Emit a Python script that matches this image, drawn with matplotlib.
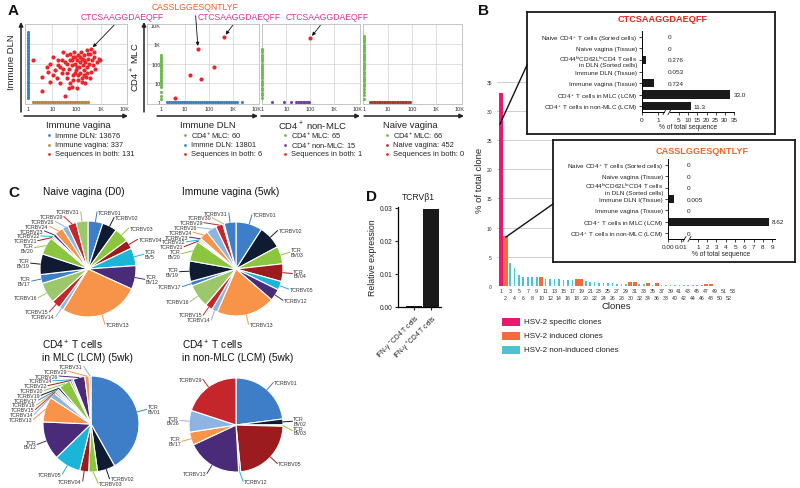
import numpy as np
import matplotlib
matplotlib.use("Agg")
import matplotlib.pyplot as plt
import matplotlib.ticker as mticker
from matplotlib.patches import Rectangle

plt.rcParams['font.family'] = ['Liberation Sans', 'DejaVu Sans']
plt.rcParams['mathtext.fontset'] = 'custom'
plt.rcParams['mathtext.rm'] = 'Liberation Sans'
plt.rcParams['mathtext.it'] = 'Liberation Sans:italic'
plt.rcParams['mathtext.bf'] = 'Liberation Sans:bold'

W, H = 800, 489

#####################################################################
#   DATA
#####################################################################

# --- A, plot 1: immune vagina (x) vs immune DLN (y), shared clones in log10
a1_shared_vag_log = [0.22, 0.56, 0.56, 0.91, 1.05, 1.12, 1.25, 1.32, 1.39, 1.46, 1.53, 1.60, 1.60, 1.67,
                     1.74, 1.74, 1.80, 1.85, 1.87, 1.90, 1.94, 1.98, 2.01, 2.04, 2.08, 2.12, 2.15, 2.15,
                     2.18, 2.22, 2.26, 2.29, 2.31, 2.36, 2.40, 2.42, 2.45, 2.49, 2.53, 2.56, 2.59, 2.63,
                     2.67, 2.73, 2.77, 2.84, 2.91, 2.98, 1.53, 0.91, 1.18, 1.32, 1.67, 1.80, 2.01, 2.22,
                     2.36, 1.87, 2.08, 1.46, 1.25, 1.05, 0.77, 0.84, 1.60, 1.74, 1.94, 2.29, 2.49, 2.70,
                     2.15, 2.01, 1.80, 1.60, 1.39, 2.29, 2.42, 2.56, 2.22, 1.94, 2.59]
a1_shared_dln_log = [2.17, 1.32, 0.58, 2.00, 2.34, 1.66, 2.17, 1.83, 1.49, 2.60, 2.09, 2.43, 1.23, 1.74,
                     2.17, 0.97, 1.91, 1.40, 2.34, 2.60, 2.00, 1.66, 2.17, 1.15, 2.43, 1.83, 2.09, 1.49,
                     2.60, 2.26, 1.91, 1.66, 2.43, 2.09, 1.32, 2.68, 1.83, 2.26, 2.00, 2.51, 1.57, 2.17,
                     1.91, 2.34, 1.74, 2.09, 2.26, 2.17, 0.29, 1.06, 1.23, 0.97, 0.72, 0.80, 0.72, 1.06,
                     0.97, 1.15, 1.40, 1.74, 1.91, 1.40, 1.83, 1.57, 2.00, 2.51, 2.34, 2.17, 2.51, 2.60,
                     2.34, 1.83, 2.17, 1.49, 2.17, 1.40, 1.49, 1.23, 1.23, 1.49, 2.74]
a1_dln_only = [1.6, 1.9, 2.3, 2.8, 3.3, 4, 4.8, 5.7, 6.8, 8, 9.5, 11, 13, 16, 19, 23, 27, 32, 38, 45, 54,
               64, 76, 90, 107, 127, 150, 180, 215, 255, 300, 360, 430, 510, 610, 720, 860, 1020, 1220,
               1450, 1720, 2050, 2450, 2900, 3450, 4100]
a1_vag_only = [1.6, 1.9, 2.3, 2.8, 3.3, 4, 4.8, 5.7, 6.8, 8, 9.5, 11, 13, 16, 19, 23, 27, 32, 38, 45, 54,
               64, 76, 90, 107, 127, 150, 180, 215, 255, 300]

# --- A, plot 2: immune DLN (x) vs CD4+ MLC (y)
a2_shared_dln = [3.7, 16, 46, 160, 35, 420]
a2_shared_mlc = [1.6, 24, 15, 70, 590, 2400]
a2_mlc_only = [1.4, 2, 3.3, 6, 8, 10, 12, 14, 17, 20, 24, 28, 33, 40, 48, 57, 68, 80, 95, 115, 135, 160,
               190, 230, 290]
a2_dln_only = [1.8, 2.2, 2.6, 3.1, 3.7, 4.4, 5.2, 6.2, 7.4, 8.8, 10.5, 12.5, 15, 18, 21, 25, 30, 36, 43,
               51, 61, 72, 86, 102, 122, 145, 173, 206, 245, 290, 345, 410, 490, 580, 690, 820, 980,
               1170, 1400, 2300]

# --- A, plot 3: CD4+ non-MLC (x) vs CD4+ MLC (y)
a3_shared_nonmlc = [100]
a3_shared_mlc = [2100]
a3_mlc_only = [1.6, 2.2, 3, 4, 5.5, 7.5, 10, 13, 17, 22, 28, 36, 46, 60, 78, 100, 130, 170, 220, 290,
               380, 500, 590]
a3_nonmlc_only = [2.6, 7.6, 15, 26, 30, 36, 42, 48, 55, 62, 70, 78, 88]

# --- A, plot 4: naive vagina (x) vs CD4+ MLC (y)
a4_mlc_only = [1.5, 2.2, 3.2, 4.5, 6.5, 9, 12, 16, 21, 28, 37, 50, 65, 85, 110, 145, 190, 250, 330,
               430, 560, 730, 950, 1250, 1650, 2200, 2600]
a4_naive_only = [1.8, 2.1, 2.5, 3, 3.5, 4.1, 4.8, 5.6, 6.6, 7.7, 9, 10.5, 12.3, 14.4, 16.8, 19.6, 23,
                 27, 31, 37, 43, 50, 58, 68, 80]

a_xlabels = ['Immune vagina', 'Immune DLN', 'CD4$^+$ non-MLC', 'Naive vagina']
a_legend_text = [
    ['Immne DLN: 13676', 'Immune vagina: 337', 'Sequences in both: 131'],
    ['CD4$^+$MLC: 60', 'Immne DLN: 13801', 'Sequences in both: 6'],
    ['CD4$^+$MLC: 65', 'CD4$^+$non-MLC: 15', 'Sequences in both: 1'],
    ['CD4$^+$MLC: 66', 'Naive vagina: 452', 'Sequences in both: 0'],
]

# --- B main: % of total clone for 53 clones
clone_pct = [33.0, 8.62, 4.0, 3.0, 1.8, 1.5, 1.5, 1.5, 1.5, 1.6, 1.25, 1.25, 1.2, 1.15, 1.0, 1.0, 1.0,
             1.15, 1.15, 0.85, 0.75, 0.7, 0.55, 0.5, 0.45, 0.45, 0.4, 0.4, 0.4, 0.65, 0.65, 0.35, 0.3,
             0.55, 0.25, 0.5, 0.2, 0.15, 0.15, 0.12, 0.12, 0.1, 0.1, 0.1, 0.1, 0.1, 0.35, 0.35, 0.08,
             0.06, 0.06, 0.06, 0.06]
specific_clones = [1]
induced_clones = [2, 10, 18, 19, 30, 31, 34, 36, 47, 48]
legend_b = ['HSV-2 specific clones', 'HSV-2 induced clones', 'HSV-2 non-induced clones']

# --- B insets
inset_rows = ['Naive CD4$^+$ T cells (Sorted cells)', 'Naive vagina (Tissue)',
              'CD44$^{\\mathrm{hi}}$CD62L$^{\\mathrm{lo}}$CD4 T cells\nin DLN (Sorted cells)',
              'Immune DLN (Tissue)', 'Immune vagina (Tissue)', 'CD4$^+$ T cells in MLC (LCM)',
              'CD4$^+$ T cells in non-MLC (LCM)']
inset_rows2 = list(inset_rows)
inset_rows2[3] = 'Immune DLN I(Tissue)'
ctcs_pct = [0, 0, 0.276, 0.053, 0.724, 33.0, 11.3]
cass_pct = [0, 0, 0, 0.005, 0, 8.62, 0]
ctcs_ticks = [0, 1, 5, 10, 15, 20, 25, 30, 35]
cass_ticks = [0, 0.01, 1, 2, 3, 4, 5, 6, 7, 8, 9]
cass_ticklabels = ['0.00', '0.01', '1', '2', '3', '4', '5', '6', '7', '8', '9']

# --- C pies (clockwise from 12 o'clock)
pie1_names = ['TCRBV01', 'TCRBV02', 'TCRBV03', 'TCRBV04', 'TCR\nBV5', 'TCR\nBV12', 'TCRBV13', 'TCRBV14',
              'TCRBV15', 'TCRBV16', 'TCR\nBV17', 'TCR\nBV19', 'TCR\nBV20', 'TCRBV21', 'TCRBV22',
              'TCRBV23', 'TCRBV24', 'TCRBV26', 'TCRBV29', 'TCRBV31']
pie1_vals = [5, 5, 5, 3, 6, 8, 27, 1.5, 3, 7, 3, 7, 6, 0.5, 0.5, 1, 3, 2, 3, 4]
pie2_names = ['TCRBV01', 'TCRBV02', 'TCR\nBV03', 'TCR\nBV04', 'TCRBV05', 'TCRBV12', 'TCRBV13', 'TCRBV14',
              'TCRBV15', 'TCRBV16', 'TCRBV17', 'TCR\nBV19', 'TCR\nBV20', 'TCRBV21', 'TCRBV22', 'TCRBV23',
              'TCRBV24', 'TCRBV26', 'TCRBV29', 'TCRBV30', 'TCRBV31']
pie2_vals = [9, 8, 6, 6, 3, 4, 20, 2, 2.5, 8, 1.5, 7, 7, 0.5, 0.5, 0.5, 3, 3.5, 2.5, 0.5, 4]
pie3_names = ['TCR\nBV01', 'TCRBV02', 'TCRBV03', 'TCRBV04', 'TCRBV05', 'TCR\nBV12', 'TCRBV13', 'TCRBV14',
              'TCRBV15', 'TCRBV16', 'TCRBV17', 'TCRBV19', 'TCRBV20', 'TCRBV22', 'TCRBV24', 'TCRBV26',
              'TCRBV29', 'TCRBV31']
pie3_vals = [42, 6, 3, 3, 9, 13, 8.5, 2, 0.6, 0.6, 0.6, 0.8, 4, 0.6, 0.6, 4, 1.5, 0.6]
pie4_names = ['TCRBV01', 'TCR\nBV02', 'TCR\nBV03', 'TCRBV05', 'TCRBV12', 'TCRBV13', 'TCR\nBV17',
              'TCR\nBV26', 'TCRBV29']
pie4_vals = [23, 2, 0.5, 23, 0.7, 19, 4.5, 7.5, 20]
pie_titles = ['Naive vagina (D0)', 'Immune vagina (5wk)', 'CD4$^+$ T cells\nin MLC (LCM) (5wk)',
              'CD4$^+$ T cells\nin non-MLC (LCM) (5wk)']

# --- D
d_labels = ['IFN-\u03b3$^-$CD4 T cells', 'IFN-\u03b3$^+$CD4 T cells']
d_values = [0.0002, 0.0297]

#####################################################################
#   FIGURE
#####################################################################
BLUE_A, BROWN_A, RED_A = '#3f80c0', '#b8873c', '#e8262b'
GREEN_A, PURPLE_A, DRED_A = '#6cbb50', '#7442a0', '#b0362e'
MAGENTA, ORANGE_T = '#d7309a', '#f0582a'
PINK_B, ORANGE_B, CYAN_B = '#e8196e', '#f26b3c', '#4ec3d0'
PIE_COLORS = ['#3e7dc8', '#0f1b30', '#8cc63e', '#9b1b1f', '#1bb5d8', '#4a2b7a', '#f7944a', '#8db4e2',
              '#c5262c', '#9dc76b']

fig = plt.figure(figsize=(W / 100, H / 100), dpi=100)


def px_axes(x0, y0, x1, y1):
    return fig.add_axes([x0 / W, 1 - y1 / H, (x1 - x0) / W, (y1 - y0) / H])


ov = fig.add_axes([0, 0, 1, 1])
ov.set_zorder(10)
ov.patch.set_alpha(0)


def log_frame(ax, xlo, ylabels=False):
    ax.set_xscale('log')
    ax.set_yscale('log')
    for v in (10, 100, 1000):
        ax.axvline(v, color='#d2d2d2', lw=0.5, zorder=0)
        ax.axhline(v, color='#d2d2d2', lw=0.5, zorder=0)
    for s in ax.spines.values():
        s.set_color('#bcbcbc')
        s.set_linewidth(0.6)
    dec = [1, 10, 100, 1000, 10000]
    names = ['1', '10', '100', '1K', '10K']
    ax.set_xticks(dec, names)
    if ylabels:
        ax.set_yticks(dec, names)
        ax.tick_params(axis='y', pad=-10)
    else:
        ax.set_yticks([])
    ax.xaxis.set_minor_locator(mticker.NullLocator())
    ax.yaxis.set_minor_locator(mticker.NullLocator())
    ax.tick_params(length=0, labelsize=4, colors='#333333')
    ax.tick_params(axis='x', pad=1.5)
    ax.set_xlim(xlo, 10 ** 4.08)
    ax.set_ylim(10 ** -0.1, 10 ** 4.05)


def dots(ax, x, y, c, s=5):
    ax.scatter(x, y, s=s, color=c, lw=0, clip_on=False, zorder=3)


# ---------------- panel A
a1 = px_axes(25, 25, 127, 105)
log_frame(a1, 10 ** -0.124)
dots(a1, np.ones(len(a1_dln_only)), a1_dln_only, BLUE_A)
dots(a1, a1_vag_only, np.ones(len(a1_vag_only)), BROWN_A)
dots(a1, 10 ** np.array(a1_shared_vag_log), 10 ** np.array(a1_shared_dln_log), RED_A, s=9)

a2 = px_axes(147, 25, 259, 105)
log_frame(a2, 10 ** -0.58, ylabels=True)
dots(a2, np.ones(len(a2_mlc_only)), a2_mlc_only, GREEN_A)
dots(a2, a2_dln_only, np.ones(len(a2_dln_only)), BLUE_A)
dots(a2, a2_shared_dln, a2_shared_mlc, RED_A, s=9)

a3 = px_axes(262, 25, 360, 105)
log_frame(a3, 10 ** -0.02)
dots(a3, np.ones(len(a3_mlc_only)), a3_mlc_only, GREEN_A)
dots(a3, a3_nonmlc_only, np.ones(len(a3_nonmlc_only)), PURPLE_A)
dots(a3, a3_shared_nonmlc, a3_shared_mlc, RED_A, s=9)

a4 = px_axes(363, 25, 462, 105)
log_frame(a4, 10 ** -0.04)
dots(a4, np.ones(len(a4_mlc_only)), a4_mlc_only, GREEN_A)
dots(a4, a4_naive_only, np.ones(len(a4_naive_only)), DRED_A)

arrow_kw = dict(arrowstyle='-|>', color='#222222', lw=1.1, mutation_scale=6, shrinkA=0, shrinkB=0)
for x0, x1 in [(24, 128), (157, 258), (261, 360), (364, 464)]:
    ov.annotate('', xy=(x1, 117), xytext=(x0, 117), arrowprops=arrow_kw)
for xa in (21, 144):
    ov.annotate('', xy=(xa, 23), xytext=(xa, 113), arrowprops=arrow_kw)

for xc, lab in zip([78, 208, 312, 410], a_xlabels):
    ov.text(xc, 126, lab, ha='center', va='center', fontsize=6.8, color='#222222')
ov.text(12, 62, 'Immune DLN', rotation=90, ha='center', va='center', fontsize=6.8, color='#222222')
ov.text(135, 67, 'CD4$^+$ MLC', rotation=90, ha='center', va='center', fontsize=6.8, color='#222222')

leg_cols = [[BLUE_A, BROWN_A, RED_A], [GREEN_A, BLUE_A, RED_A], [GREEN_A, PURPLE_A, RED_A],
            [GREEN_A, DRED_A, RED_A]]
for xd, texts, cols in zip([49, 185, 285, 387], a_legend_text, leg_cols):
    for k, (t, c) in enumerate(zip(texts, cols)):
        yy = 136 + 9.5 * k
        ov.plot([xd], [yy], 'o', ms=2.0, color=c, mew=0)
        ov.text(xd + 6, yy, t, ha='left', va='center', fontsize=5.4, color='#222222')

ann_arrow = dict(arrowstyle='-|>', color='#111111', lw=0.6, mutation_scale=5, shrinkA=1, shrinkB=2)
ov.annotate('CTCSAAGGDAEQFF', xy=(10 ** a1_shared_vag_log[-1], 10 ** a1_shared_dln_log[-1]),
            xycoords=a1.transData, xytext=(122, 18), textcoords='data', ha='center', va='center',
            color=MAGENTA, fontsize=6.2, arrowprops=ann_arrow)
ov.annotate('CASSLGGESQNTLYF', xy=(a2_shared_dln[4], a2_shared_mlc[4]), xycoords=a2.transData,
            xytext=(195, 8), textcoords='data', ha='center', va='center', color=ORANGE_T,
            fontsize=6.2, arrowprops=ann_arrow)
ov.annotate('CTCSAAGGDAEQFF', xy=(a2_shared_dln[5], a2_shared_mlc[5]), xycoords=a2.transData,
            xytext=(239, 18), textcoords='data', ha='center', va='center', color=MAGENTA,
            fontsize=6.2, arrowprops=ann_arrow)
ov.annotate('CTCSAAGGDAEQFF', xy=(a3_shared_nonmlc[0], a3_shared_mlc[0]), xycoords=a3.transData,
            xytext=(327, 18), textcoords='data', ha='center', va='center', color=MAGENTA,
            fontsize=6.2, arrowprops=ann_arrow)

# ---------------- panel B main bars
axB = px_axes(497, 74, 736, 287)
xs = np.arange(1, len(clone_pct) + 1)
bcol, bwid = [], []
for i in xs:
    if i in specific_clones:
        bcol.append(PINK_B); bwid.append(0.92)
    elif i in induced_clones:
        bcol.append(ORANGE_B); bwid.append(0.92)
    else:
        bcol.append(CYAN_B); bwid.append(0.38)
axB.bar(xs, clone_pct, width=bwid, color=bcol, zorder=2)
axB.set_xlim(0.1, 53.7)
axB.set_ylim(0, 36.5)
axB.set_yticks(range(0, 36, 5))
axB.grid(axis='y', color='#c8c8c8', lw=0.6)
axB.set_axisbelow(True)
for s in axB.spines.values():
    s.set_visible(False)
odd = xs[xs % 2 == 1]
even = xs[xs % 2 == 0]
axB.set_xticks(odd, [str(i) for i in odd])
axB.set_xticks(even, [str(i) for i in even], minor=True)
axB.tick_params(which='both', length=0, labelsize=3.8, colors='#333333', pad=1.2)
axB.tick_params(axis='x', which='minor', pad=6.8)
axB.tick_params(axis='y', pad=3.6, labelsize=3.6)
axB.grid(axis='x', which='both', visible=False)
axB.set_xlabel('Clones', fontsize=6.8, labelpad=0.5, color='#222222')
axB.set_ylabel('% of total clone', fontsize=6.8, labelpad=2, color='#222222')

for k, (lab, c) in enumerate(zip(legend_b, [PINK_B, ORANGE_B, CYAN_B])):
    yy = 323 + 14 * k
    ov.add_patch(Rectangle((502, yy - 4), 18, 8, color=c, lw=0))
    ov.text(524, yy, lab, ha='left', va='center', fontsize=5.8, color='#222222')


def val_text(v):
    if v == 0:
        return '0'
    return f'{v:.1f}' if v >= 10 else f'{v:g}'


def inset(box, rect, knots_v, knots_px, xmax, vals, rows, ticks, ticklabels, label_min,
          title, title_xy, title_color):
    bx = px_axes(*box)
    bx.set_xticks([])
    bx.set_yticks([])
    bx.set_facecolor('white')
    for s in bx.spines.values():
        s.set_linewidth(1.3)
        s.set_color('#1a1a1a')
    ia = px_axes(*rect)
    ia.patch.set_alpha(0)

    def fwd(v):
        return np.interp(v, knots_v, knots_px)

    def inv(p):
        return np.interp(p, knots_px, knots_v)
    ia.set_xscale('function', functions=(fwd, inv))
    ia.barh(range(len(vals)), vals, height=0.72, color='#1a1a1a')
    ia.set_xlim(0, xmax)
    ia.set_ylim(len(vals) - 0.5, -0.5)
    ia.set_yticks(range(len(rows)), rows)
    ia.set_xticks(ticks, ticklabels)
    ia.xaxis.set_minor_locator(mticker.NullLocator())
    ia.tick_params(labelsize=4.6, length=2, width=0.6, pad=1.5, colors='#222222')
    for t in ia.get_yticklabels():
        t.set_linespacing(0.85)
    for s in ('top', 'right'):
        ia.spines[s].set_visible(False)
    for s in ('left', 'bottom'):
        ia.spines[s].set_linewidth(0.7)
    ia.set_xlabel('% of total sequence', fontsize=4.8, labelpad=1, color='#222222')
    for i, v in enumerate(vals):
        ia.annotate(val_text(v), (max(v, label_min), i), xytext=(2.2, 0), textcoords='offset points',
                    va='center', ha='left', fontsize=4.6, color='#222222')
    ov.text(title_xy[0], title_xy[1], title, ha='center', va='center', fontsize=6.6,
            fontweight='bold', color=title_color)
    return ia


inset((527, 13, 775, 135), (642, 32, 734, 113), [0, 1, 5, 35, 40], [0, 16, 37, 92, 101.2], 35,
      ctcs_pct, inset_rows, ctcs_ticks, [str(t) for t in ctcs_ticks], 2.3,
      'CTCSAAGGDAEQFF', (663, 20), '#e2231a')
inset((553, 141, 795, 263), (668, 160, 775, 240), [0, 0.01, 1, 9, 10], [0, 13, 30, 104.5, 113.8],
      9.3, cass_pct, inset_rows2, cass_ticks, cass_ticklabels, 0.19,
      'CASSLGGESQNTLYF', (702, 151), '#f26522')

# axis breaks
for xb, yb in [(667, 113), (687, 240)]:
    ov.add_patch(Rectangle((xb - 2.5, yb - 2), 5, 4, color='white', lw=0, zorder=5))
    for dx in (-2.5, 2.5):
        ov.plot([xb + dx - 1.5, xb + dx + 1.5], [yb + 2.5, yb - 2.5], color='#1a1a1a', lw=0.6, zorder=6)

# connector lines
ov.plot([527, 500], [66, 125], color='#111111', lw=1.0)
ov.plot([553, 506], [205, 238], color='#111111', lw=1.0)


# ---------------- panel C pies
def draw_pie(cx, cy, r, vals, names):
    cols = [PIE_COLORS[i % len(PIE_COLORS)] for i in range(len(vals))]
    wedges, _ = ov.pie(vals, colors=cols, startangle=-90, counterclock=True, center=(cx, cy),
                       radius=r, frame=True, wedgeprops=dict(edgecolor='white', linewidth=0.8))
    items = []
    for w, nm, c in zip(wedges, names, cols):
        a = np.deg2rad(0.5 * (w.theta1 + w.theta2))
        items.append((a, nm, c))
    R = 1.2 * r
    for side in (1, -1):
        grp = [it for it in items if (np.cos(it[0]) >= 0) == (side > 0)]
        grp.sort(key=lambda it: np.sin(it[0]))
        last_y, last_h = -1e9, 0
        for a, nm, c in grp:
            h = 4.4 * (nm.count('\n') + 1)
            y = max(cy + R * np.sin(a), last_y + (h + last_h) / 2 + 0.4)
            dy = y - cy
            x = cx + side * max(np.sqrt(max(R ** 2 - dy ** 2, 0)), 0.15 * r)
            ov.plot([cx + r * np.cos(a), x], [cy + r * np.sin(a), y], color=c, lw=0.7)
            ov.text(x + side * 1.0, y, nm, ha='left' if side > 0 else 'right', va='center',
                    fontsize=3.8, linespacing=0.95, color='#333333')
            last_y, last_h = y, h


draw_pie(88, 270, 48, pie1_vals, pie1_names)
draw_pie(236, 270, 47, pie2_vals, pie2_names)
draw_pie(91, 425, 48, pie3_vals, pie3_names)
draw_pie(236, 426, 47, pie4_vals, pie4_names)
for (tx, ty), t in zip([(43, 192), (182, 192), (42, 351), (182, 351)], pie_titles):
    ov.text(tx, ty, t, ha='left', va='center', fontsize=7.3, linespacing=1.15, color='#111111')

# ---------------- panel D
axD = px_axes(398, 208, 441, 308)
axD.bar(range(len(d_values)), d_values, width=0.95, color='#1a1a1a')
axD.set_xlim(-0.94, 1.59)
axD.set_ylim(0, 0.0303)
axD.set_yticks([0, 0.01, 0.02, 0.03])
axD.yaxis.set_major_formatter(mticker.FormatStrFormatter('%.2f'))
axD.set_xticks(range(len(d_labels)), d_labels, rotation=45, ha='right', rotation_mode='anchor')
axD.tick_params(labelsize=4.8, length=2.5, width=0.8, pad=1.5, colors='#222222')
for s in ('top', 'right'):
    axD.spines[s].set_visible(False)
for s in ('left', 'bottom'):
    axD.spines[s].set_linewidth(0.9)
axD.set_ylabel('Relative expression', fontsize=6.3, labelpad=2, color='#222222')
ov.text(418, 198, 'TCRV\u03b21', ha='center', va='center', fontsize=6.2, color='#222222')

# ---------------- panel letters
for (lx, ly), L in zip([(8, 11), (478, 11), (8, 193), (366, 197)], 'ABCD'):
    ov.text(lx, ly, L, ha='left', va='center', fontsize=11, fontweight='bold', color='#111111')

ov.set_xlim(0, W)
ov.set_ylim(H, 0)
ov.set_aspect('auto')
ov.axis('off')

fig.savefig('out.png', dpi=100)
